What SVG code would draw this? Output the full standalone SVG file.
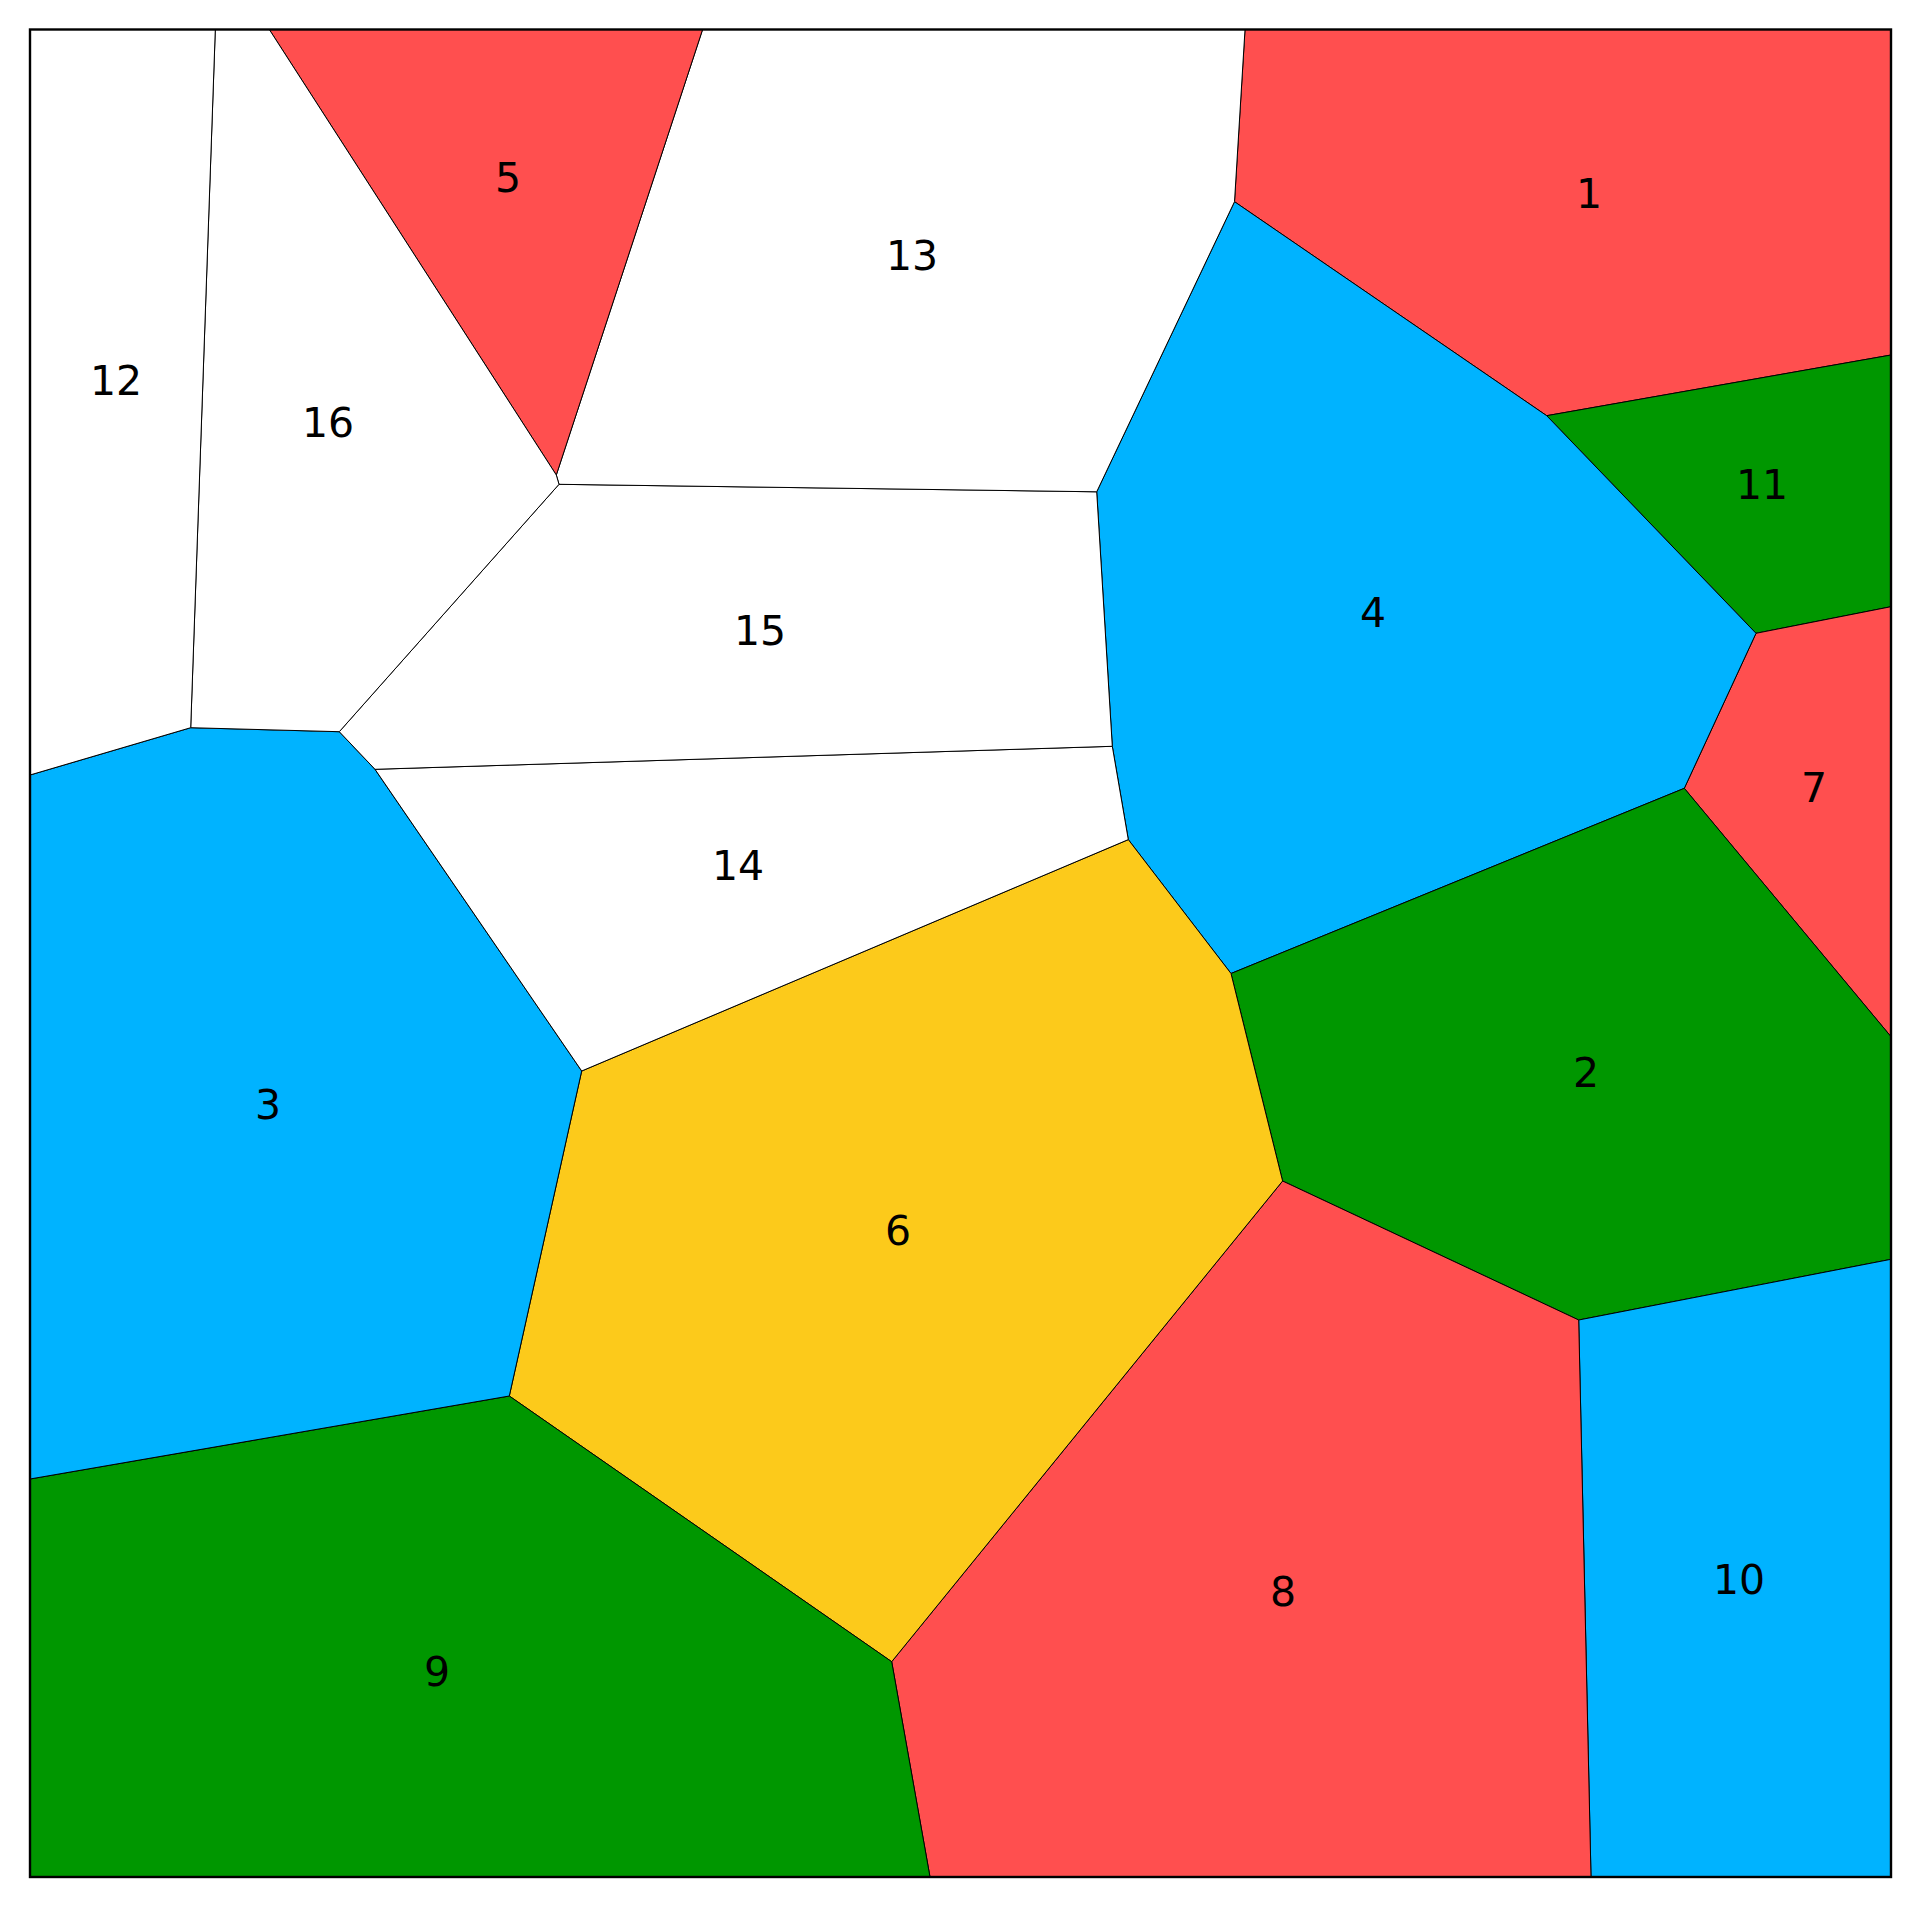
<svg xmlns="http://www.w3.org/2000/svg" width="1919" height="1907" viewBox="0 0 1919 1907">
<style>
.c{stroke:#000;stroke-width:1;stroke-linejoin:miter}
.r{fill:#FF4F4F}.b{fill:#00B3FF}.g{fill:#009700}.y{fill:#FCCA1B}.w{fill:#FFFFFF}
text{font-family:"DejaVu Sans",sans-serif;font-size:41px;fill:#000;text-anchor:middle}
</style>
<rect x="0" y="0" width="1919" height="1907" fill="#fff"/>
<g id="cells">
<g id="cell1"><polygon class="c r" points="1245,29.5 1891,29.5 1891,355 1546.7,415.7 1234.5,201.7"/><text x="1589" y="208">1</text></g>
<g id="cell11"><polygon class="c g" points="1546.7,415.7 1891,355 1891,606.7 1756,633.3"/><text x="1762" y="499">11</text></g>
<g id="cell7"><polygon class="c r" points="1756,633.3 1891,606.7 1891,1036.7 1684.3,788.3"/><text x="1814" y="802">7</text></g>
<g id="cell4"><polygon class="c b" points="1234.5,201.7 1546.7,415.7 1756,633.3 1684.3,788.3 1231,973.5 1128.3,839.6 1112.3,746.3 1096.7,491.8"/><text x="1373" y="627">4</text></g>
<g id="cell2"><polygon class="c g" points="1684.3,788.3 1891,1036.7 1891,1259.3 1578.7,1320 1282.6,1181 1231,973.5"/><text x="1586" y="1087">2</text></g>
<g id="cell10"><polygon class="c b" points="1578.7,1320 1891,1259.3 1891,1877 1591,1877"/><text x="1739" y="1594">10</text></g>
<g id="cell8"><polygon class="c r" points="1282.6,1181 1578.7,1320 1591,1877 930,1877 891.7,1661.7"/><text x="1283" y="1606">8</text></g>
<g id="cell6"><polygon class="c y" points="581.7,1071 1128.3,839.6 1231,973.5 1282.6,1181 891.7,1661.7 509.3,1396"/><text x="898" y="1245">6</text></g>
<g id="cell9"><polygon class="c g" points="30,1479 509.3,1396 891.7,1661.7 930,1877 30,1877"/><text x="437" y="1686">9</text></g>
<g id="cell3"><polygon class="c b" points="30,775 190.7,727.7 339.3,731.7 375,769.3 581.7,1071 509.3,1396 30,1479"/><text x="268" y="1119">3</text></g>
<g id="cell14"><polygon class="c w" points="375,769.3 1112.3,746.3 1128.3,839.6 581.7,1071"/><text x="738" y="880">14</text></g>
<g id="cell15"><polygon class="c w" points="339.3,731.7 559,484.3 1096.7,491.8 1112.3,746.3 375,769.3"/><text x="760" y="645">15</text></g>
<g id="cell13"><polygon class="c w" points="702.6,29.5 1245,29.5 1234.5,201.7 1096.7,491.8 559,484.3 556.3,475"/><text x="912" y="270">13</text></g>
<g id="cell5"><polygon class="c r" points="269.3,29.5 702.6,29.5 556.3,475"/><text x="508" y="192">5</text></g>
<g id="cell16"><polygon class="c w" points="215.3,29.5 269.3,29.5 556.3,475 559,484.3 339.3,731.7 190.7,727.7"/><text x="328" y="437">16</text></g>
<g id="cell12"><polygon class="c w" points="30,29.5 215.3,29.5 190.7,727.7 30,775"/><text x="116" y="395">12</text></g>
</g>
<g id="connectors"></g>
<rect x="30" y="29.5" width="1861" height="1847.5" fill="none" stroke="#000" stroke-width="2.4"/>
</svg>
